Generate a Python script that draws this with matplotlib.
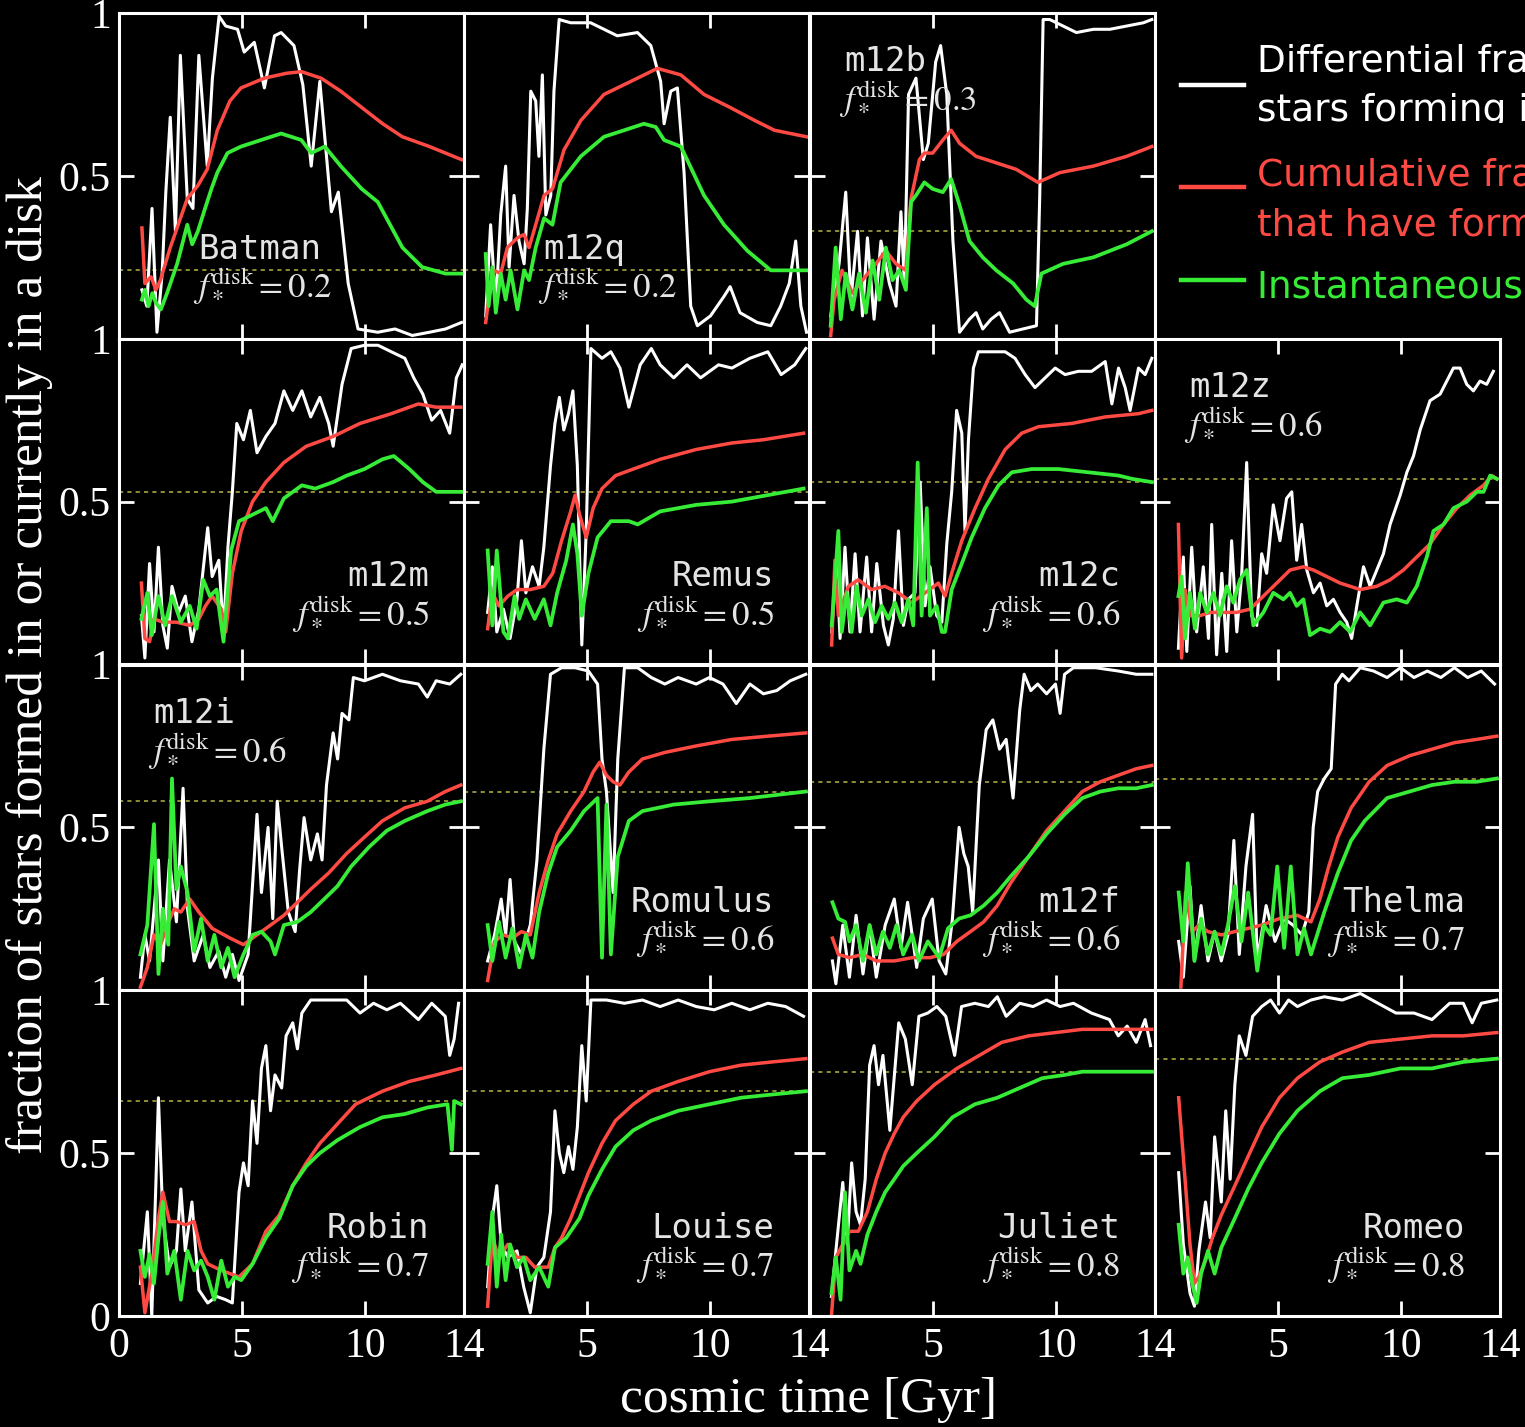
import matplotlib.pyplot as plt
from matplotlib.lines import Line2D
from matplotlib.transforms import Bbox

plt.rcParams['mathtext.fontset'] = 'stix'
plt.rcParams['font.family'] = ['Liberation Serif', 'DejaVu Serif']

# --- data: (cosmic time [Gyr], fraction) ---
batman_white = [(0.93,.15),(1.13,.10),(1.34,.40),(1.54,.02),(1.75,.20),(1.9,.45),(2.08,.68),(2.29,.33),(2.49,.87),(2.77,.43),(3.0,.40),(3.24,.87),(3.58,.53),(3.79,.80),(4.06,.99),(4.33,.96),(4.81,.95),(5.08,.88),(5.49,.91),(5.9,.77),(6.31,.93),(6.58,.94),(7.1,.90),(7.46,.78),(7.8,.53),(8.15,.79),(8.62,.39),(8.9,.45),(9.3,.17),(9.7,.03),(10.5,.02),(11.2,.03),(11.9,.01),(12.6,.02),(13.25,.03),(13.9,.05)]
batman_red = [(0.93,.34),(1.05,.17),(1.3,.19),(1.5,.15),(1.68,.18),(2.08,.28),(2.77,.43),(3.2,.47),(3.58,.52),(3.99,.64),(4.5,.73),(4.95,.77),(5.9,.80),(6.8,.815),(7.4,.82),(8.2,.80),(9.0,.76),(9.85,.71),(10.7,.66),(11.5,.62),(12.6,.59),(13.9,.55)]
batman_green = [(0.93,.12),(1.05,.15),(1.2,.10),(1.35,.14),(1.5,.11),(1.7,.09),(1.95,.14),(2.36,.23),(2.6,.30),(2.77,.35),(2.97,.29),(3.2,.33),(3.45,.39),(3.75,.46),(3.99,.51),(4.4,.57),(4.95,.59),(5.76,.61),(6.58,.63),(7.4,.61),(7.8,.57),(8.35,.59),(9.0,.53),(9.85,.46),(10.5,.42),(11.0,.35),(11.5,.28),(12.3,.22),(13.25,.20),(13.9,.20)]

m12q_white = [(0.88,.07),(1.08,.35),(1.29,.10),(1.49,.38),(1.69,.53),(1.83,.22),(2.03,.44),(2.23,.30),(2.44,.23),(2.57,.40),(2.71,.76),(2.91,.73),(3.04,.56),(3.18,.81),(3.32,.38),(3.52,.44),(3.65,.76),(3.86,.98),(4.33,.97),(5.14,.97),(5.68,.95),(6.22,.93),(7.04,.94),(7.58,.90),(7.98,.79),(8.12,.66),(8.39,.76),(8.66,.77),(8.93,.51),(9.2,.10),(9.47,.04),(10.0,.07),(10.55,.13),(10.8,.16),(11.2,.08),(11.9,.05),(12.45,.04),(12.85,.10),(13.2,.17),(13.46,.30),(13.67,.10),(13.9,.02)]
m12q_red = [(0.88,.05),(1.0,.12),(1.22,.21),(1.49,.20),(1.76,.28),(2.17,.31),(2.44,.32),(2.64,.28),(2.91,.35),(3.25,.44),(3.59,.46),(4.06,.58),(4.74,.67),(5.68,.75),(6.77,.79),(7.85,.83),(8.8,.81),(9.74,.75),(10.8,.71),(11.8,.67),(12.6,.64),(13.9,.62)]
m12q_green = [(0.88,.26),(1.0,.10),(1.15,.22),(1.29,.08),(1.49,.20),(1.69,.12),(1.89,.21),(2.17,.09),(2.44,.21),(2.64,.18),(2.91,.28),(3.25,.37),(3.59,.35),(3.92,.48),(4.74,.56),(5.68,.62),(6.5,.64),(7.3,.66),(7.78,.65),(8.12,.61),(8.8,.59),(9.74,.44),(10.55,.35),(11.5,.27),(12.45,.21),(13.5,.21),(13.9,.21)]

m12b_white = [(0.84,.07),(1.18,.23),(1.45,.45),(1.66,.12),(1.93,.33),(2.13,.07),(2.33,.31),(2.6,.06),(2.88,.30),(3.22,.17),(3.49,.10),(3.69,.39),(3.83,.17),(4.0,.75),(4.3,.80),(4.6,.55),(4.8,.60),(5.1,.85),(5.3,.90),(5.55,.75),(5.8,.30),(6.07,.02),(6.47,.06),(6.74,.08),(7.01,.03),(7.35,.06),(7.69,.08),(8.1,.02),(8.64,.03),(9.19,.04),(9.32,.43),(9.46,.98),(9.73,.98),(10.27,.96),(10.81,.94),(11.5,.95),(12.17,.95),(12.85,.96),(13.53,.97),(13.87,.98)]
m12b_red = [(0.84,.01),(0.98,.12),(1.3,.21),(1.72,.14),(2.13,.18),(2.67,.23),(3.08,.27),(3.49,.23),(3.89,.21),(4.1,.43),(4.44,.55),(4.64,.57),(4.98,.57),(5.39,.61),(5.73,.64),(6.07,.60),(6.74,.56),(7.56,.54),(8.37,.52),(9.25,.48),(10.14,.51),(11.5,.53),(12.85,.56),(13.87,.59)]
m12b_green = [(0.84,.04),(1.04,.28),(1.25,.06),(1.45,.20),(1.72,.09),(1.99,.20),(2.27,.08),(2.54,.24),(2.81,.12),(3.08,.28),(3.35,.18),(3.62,.21),(3.89,.15),(4.1,.42),(4.3,.44),(4.64,.48),(4.98,.46),(5.39,.45),(5.73,.49),(6.07,.41),(6.47,.30),(7.01,.25),(7.56,.21),(8.24,.17),(8.78,.12),(9.12,.10),(9.39,.20),(10.27,.23),(11.5,.25),(12.85,.29),(13.87,.33)]

m12m_white = [(0.91,.15),(1.05,.02),(1.24,.31),(1.42,.10),(1.6,.36),(1.78,.12),(1.96,.05),(2.15,.24),(2.42,.16),(2.69,.21),(2.96,.07),(3.24,.17),(3.6,.42),(3.78,.27),(4.05,.32),(4.24,.10),(4.42,.36),(4.6,.53),(4.78,.74),(5.05,.69),(5.33,.78),(5.6,.65),(5.96,.70),(6.33,.74),(6.69,.84),(7.05,.78),(7.42,.84),(7.78,.76),(8.15,.82),(8.51,.74),(8.69,.67),(9.05,.86),(9.42,.97),(9.96,.98),(10.51,.98),(11.05,.96),(11.6,.94),(11.96,.88),(12.33,.83),(12.69,.75),(13.05,.78),(13.42,.71),(13.69,.88),(13.93,.92)]
m12m_red = [(0.91,.25),(1.05,.08),(1.24,.07),(1.42,.14),(1.78,.13),(2.33,.13),(2.87,.12),(3.24,.14),(3.51,.18),(3.78,.21),(4.15,.17),(4.33,.10),(4.6,.28),(4.96,.41),(5.42,.50),(5.96,.56),(6.69,.62),(7.6,.67),(8.69,.70),(9.78,.74),(11.05,.77),(12.15,.80),(12.87,.79),(13.87,.79)]
m12m_green = [(0.91,.14),(1.15,.22),(1.33,.09),(1.6,.21),(1.87,.12),(2.15,.21),(2.51,.13),(2.87,.18),(3.15,.11),(3.42,.26),(3.69,.21),(3.96,.23),(4.24,.07),(4.55,.35),(4.87,.44),(5.42,.46),(5.96,.48),(6.24,.44),(6.69,.51),(7.42,.55),(7.96,.54),(8.69,.56),(9.24,.58),(9.96,.60),(10.69,.63),(11.15,.64),(11.78,.60),(12.33,.56),(12.87,.53),(13.96,.53)]

remus_white = [(0.96,.16),(1.15,.30),(1.33,.10),(1.6,.17),(1.87,.08),(2.15,.20),(2.33,.38),(2.51,.22),(2.78,.30),(3.05,.24),(3.24,.36),(3.51,.61),(3.69,.74),(3.87,.82),(4.05,.72),(4.24,.77),(4.42,.84),(4.6,.61),(4.78,.06),(4.96,.41),(5.15,.97),(5.6,.94),(5.96,.96),(6.33,.91),(6.69,.79),(7.15,.92),(7.6,.97),(7.96,.92),(8.51,.88),(9.05,.92),(9.6,.88),(10.33,.92),(10.87,.91),(11.6,.94),(12.33,.96),(12.87,.89),(13.42,.92),(13.87,.97)]
remus_red = [(0.96,.11),(1.15,.22),(1.42,.18),(1.78,.21),(2.15,.23),(2.69,.23),(3.24,.24),(3.6,.28),(3.96,.38),(4.33,.47),(4.51,.52),(4.69,.46),(4.96,.39),(5.24,.48),(5.6,.54),(6.15,.58),(6.87,.60),(7.96,.63),(9.42,.66),(10.87,.68),(12.15,.69),(13.78,.71)]
remus_green = [(0.96,.35),(1.15,.12),(1.33,.35),(1.6,.10),(1.78,.08),(2.05,.21),(2.24,.14),(2.51,.20),(2.87,.14),(3.24,.20),(3.51,.12),(3.78,.22),(4.15,.32),(4.42,.43),(4.6,.34),(4.78,.15),(5.05,.28),(5.42,.39),(5.96,.44),(6.69,.44),(7.05,.43),(7.96,.47),(9.42,.49),(10.87,.50),(12.33,.52),(13.78,.54)]

m12c_white = [(0.88,.10),(1.08,.31),(1.22,.08),(1.42,.36),(1.62,.10),(1.83,.34),(2.03,.10),(2.3,.33),(2.5,.10),(2.71,.31),(2.98,.12),(3.18,.06),(3.38,.14),(3.59,.41),(3.79,.12),(3.99,.20),(4.26,.22),(4.47,.56),(4.67,.18),(4.87,.30),(5.14,.15),(5.35,.13),(5.55,.37),(5.75,.53),(5.95,.78),(6.16,.71),(6.29,.41),(6.43,.69),(6.63,.91),(6.83,.96),(7.38,.96),(7.92,.96),(8.32,.94),(8.73,.89),(9.13,.85),(9.54,.88),(9.95,.91),(10.35,.89),(10.89,.90),(11.43,.90),(11.98,.93),(12.25,.80),(12.52,.91),(12.79,.85),(12.99,.78),(13.33,.91),(13.6,.89),(13.87,.94)]
m12c_red = [(0.88,.06),(1.01,.32),(1.15,.15),(1.56,.24),(1.96,.26),(2.5,.23),(3.04,.24),(3.59,.22),(4.13,.19),(4.67,.22),(5.21,.25),(5.48,.21),(5.75,.28),(6.16,.38),(6.7,.48),(7.24,.57),(7.92,.66),(8.59,.71),(9.27,.73),(10.62,.74),(11.98,.76),(13.33,.77),(13.87,.78)]
m12c_green = [(0.88,.12),(1.15,.41),(1.29,.10),(1.49,.22),(1.69,.10),(1.89,.24),(2.1,.15),(2.37,.20),(2.64,.13),(2.91,.18),(3.18,.14),(3.45,.19),(3.72,.13),(3.99,.20),(4.19,.12),(4.37,.62),(4.53,.15),(4.74,.48),(4.87,.15),(5.14,.18),(5.35,.10),(5.48,.10),(5.75,.23),(6.16,.31),(6.56,.39),(7.1,.48),(7.65,.55),(8.19,.59),(9.0,.60),(10.08,.60),(11.3,.59),(12.52,.58),(13.06,.57),(13.87,.56)]

m12z_white = [(0.95,.05),(1.15,.33),(1.29,.04),(1.49,.36),(1.69,.10),(1.96,.30),(2.17,.08),(2.3,.43),(2.5,.03),(2.71,.28),(2.91,.04),(3.11,.38),(3.32,.10),(3.52,.28),(3.72,.62),(3.92,.15),(4.13,.12),(4.33,.34),(4.53,.28),(4.8,.49),(5.07,.38),(5.34,.51),(5.55,.53),(5.75,.32),(5.95,.43),(6.16,.29),(6.43,.22),(6.7,.25),(6.97,.18),(7.24,.20),(7.51,.16),(7.78,.13),(7.98,.08),(8.19,.18),(8.46,.30),(8.73,.24),(9.0,.29),(9.27,.34),(9.54,.43),(9.95,.52),(10.22,.59),(10.49,.64),(10.76,.72),(11.16,.81),(11.57,.83),(11.84,.87),(12.11,.91),(12.38,.91),(12.65,.86),(12.92,.84),(13.19,.87),(13.46,.86),(13.73,.90)]
m12z_red = [(0.95,.43),(1.08,.02),(1.22,.23),(1.42,.15),(1.83,.15),(2.23,.16),(2.77,.16),(3.32,.16),(3.86,.17),(4.4,.21),(4.94,.25),(5.48,.29),(6.02,.30),(6.43,.29),(6.97,.27),(7.51,.25),(7.92,.24),(8.32,.23),(9.0,.24),(9.54,.26),(10.08,.29),(10.62,.33),(11.16,.37),(11.71,.43),(12.25,.48),(12.79,.52),(13.33,.55),(13.67,.58),(13.87,.57)]
m12z_green = [(0.95,.21),(1.08,.27),(1.22,.08),(1.42,.22),(1.62,.11),(1.83,.22),(2.1,.16),(2.37,.22),(2.64,.15),(2.91,.24),(3.18,.19),(3.45,.26),(3.72,.29),(3.99,.12),(4.4,.16),(4.8,.22),(5.21,.20),(5.48,.22),(5.75,.18),(6.02,.20),(6.29,.09),(6.7,.11),(7.1,.10),(7.51,.13),(7.92,.10),(8.32,.16),(8.73,.12),(9.27,.19),(9.81,.20),(10.22,.19),(10.62,.24),(11.03,.33),(11.3,.41),(11.71,.43),(12.11,.48),(12.65,.50),(13.06,.53),(13.33,.53),(13.6,.58),(13.87,.57)]

m12i_white = [(0.87,.04),(1.05,.17),(1.24,.09),(1.6,.40),(1.78,.09),(2.05,.40),(2.33,.21),(2.6,.62),(2.78,.25),(3.05,.09),(3.42,.17),(3.69,.07),(4.05,.12),(4.33,.04),(4.6,.11),(4.87,.03),(5.24,.11),(5.6,.54),(5.78,.30),(6.05,.50),(6.24,.22),(6.42,.58),(6.6,.44),(6.87,.24),(7.15,.18),(7.33,.37),(7.51,.53),(7.78,.40),(8.05,.48),(8.24,.40),(8.42,.63),(8.69,.79),(8.87,.71),(9.05,.85),(9.33,.83),(9.51,.96),(9.96,.95),(10.69,.97),(11.42,.95),(12.15,.94),(12.51,.90),(12.87,.95),(13.42,.94),(13.87,.97)]
m12i_red = [(0.87,.01),(1.15,.07),(1.42,.17),(1.69,.14),(1.96,.20),(2.24,.25),(2.51,.24),(2.87,.28),(3.24,.24),(3.78,.19),(4.51,.16),(5.05,.14),(5.6,.17),(6.15,.20),(6.69,.23),(7.24,.27),(7.78,.31),(8.51,.36),(9.24,.42),(9.96,.47),(10.69,.52),(11.6,.56),(12.51,.58),(13.24,.61),(13.87,.63)]
m12i_green = [(0.87,.11),(1.15,.20),(1.42,.51),(1.6,.05),(1.78,.25),(2.0,.14),(2.15,.65),(2.33,.31),(2.51,.38),(2.78,.30),(3.05,.12),(3.33,.22),(3.6,.09),(3.87,.17),(4.15,.07),(4.42,.13),(4.69,.04),(5.05,.11),(5.42,.17),(5.78,.18),(6.15,.15),(6.33,.11),(6.69,.20),(7.24,.21),(7.78,.24),(8.33,.28),(8.87,.32),(9.42,.38),(10.15,.44),(10.87,.49),(11.6,.52),(12.51,.55),(13.24,.57),(13.87,.58)]

romulus_white = [(0.96,.09),(1.24,.17),(1.51,.28),(1.69,.17),(1.87,.34),(2.05,.15),(2.33,.11),(2.69,.20),(2.96,.40),(3.24,.74),(3.51,.97),(3.96,.99),(4.51,.99),(5.05,.98),(5.42,.94),(5.6,.71),(5.78,.61),(6.05,.30),(6.24,.71),(6.51,.99),(7.05,.99),(7.6,.96),(8.15,.94),(8.69,.96),(9.42,.94),(9.96,.96),(10.51,.94),(11.05,.88),(11.6,.94),(12.15,.91),(12.69,.92),(13.24,.95),(13.87,.97)]
romulus_red = [(0.96,.03),(1.24,.15),(1.6,.17),(1.96,.16),(2.33,.18),(2.69,.17),(3.05,.30),(3.42,.40),(3.78,.48),(4.33,.55),(4.87,.61),(5.24,.67),(5.51,.70),(5.78,.66),(6.05,.64),(6.33,.63),(6.69,.67),(7.24,.71),(8.15,.73),(9.42,.75),(10.87,.77),(12.33,.78),(13.87,.79)]
romulus_green = [(0.96,.20),(1.15,.09),(1.42,.21),(1.69,.10),(1.96,.19),(2.24,.07),(2.51,.17),(2.78,.10),(3.05,.24),(3.42,.36),(3.78,.44),(4.33,.49),(4.87,.55),(5.42,.59),(5.6,.10),(5.78,.57),(5.96,.11),(6.24,.41),(6.69,.52),(7.24,.55),(8.51,.57),(9.96,.58),(11.6,.59),(13.87,.61)]

m12f_white = [(0.91,.09),(1.05,.02),(1.33,.20),(1.6,.04),(1.87,.23),(2.15,.05),(2.42,.20),(2.69,.04),(3.05,.20),(3.42,.28),(3.69,.13),(3.96,.27),(4.33,.07),(4.6,.22),(4.96,.28),(5.24,.09),(5.51,.05),(5.78,.22),(6.05,.50),(6.24,.42),(6.42,.38),(6.6,.24),(6.87,.63),(7.15,.80),(7.42,.83),(7.69,.74),(7.96,.77),(8.24,.59),(8.51,.86),(8.69,.97),(8.96,.92),(9.24,.94),(9.6,.91),(9.96,.94),(10.15,.85),(10.33,.97),(10.69,.99),(11.6,.99),(12.51,.98),(13.24,.97),(13.87,.97)]
m12f_red = [(0.91,.16),(1.15,.11),(1.6,.10),(2.15,.11),(2.69,.09),(3.42,.09),(4.15,.10),(4.87,.10),(5.42,.11),(5.96,.15),(6.51,.18),(7.05,.21),(7.6,.26),(8.15,.33),(8.87,.41),(9.6,.49),(10.33,.55),(11.05,.61),(11.78,.64),(12.51,.66),(13.24,.68),(13.87,.69)]
m12f_green = [(0.91,.27),(1.15,.22),(1.42,.21),(1.6,.15),(1.87,.20),(2.15,.09),(2.42,.20),(2.69,.11),(2.96,.18),(3.24,.13),(3.51,.20),(3.78,.11),(4.15,.17),(4.42,.09),(4.78,.15),(5.24,.10),(5.6,.19),(6.05,.22),(6.51,.23),(7.05,.26),(7.6,.30),(8.15,.35),(8.87,.41),(9.6,.48),(10.33,.54),(11.05,.59),(11.78,.61),(12.51,.62),(13.24,.62),(13.87,.63)]

thelma_white = [(0.96,.15),(1.15,.04),(1.42,.32),(1.6,.09),(1.87,.26),(2.15,.09),(2.42,.18),(2.69,.09),(2.96,.17),(3.2,.46),(3.42,.11),(3.69,.38),(3.96,.54),(4.15,.09),(4.51,.26),(4.87,.15),(5.24,.22),(5.6,.20),(5.96,.17),(6.24,.24),(6.42,.50),(6.6,.61),(6.87,.65),(7.15,.68),(7.33,.94),(7.6,.97),(7.87,.95),(8.33,.99),(8.87,.98),(9.42,.96),(9.96,.99),(10.51,.96),(11.05,.98),(11.6,.96),(12.15,.99),(12.69,.96),(13.24,.98),(13.78,.94)]
thelma_red = [(1.05,.01),(1.24,.30),(1.51,.18),(1.78,.20),(2.15,.18),(2.69,.17),(3.24,.18),(3.78,.19),(4.33,.20),(5.05,.22),(5.78,.23),(6.33,.21),(6.69,.28),(7.05,.38),(7.42,.47),(7.96,.56),(8.69,.64),(9.42,.69),(10.33,.72),(11.24,.74),(12.15,.76),(13.05,.77),(13.87,.78)]
thelma_green = [(0.96,.30),(1.15,.15),(1.33,.39),(1.6,.09),(1.87,.22),(2.15,.11),(2.42,.18),(2.69,.11),(2.96,.20),(3.24,.32),(3.51,.15),(3.78,.30),(4.15,.06),(4.42,.20),(4.69,.17),(4.96,.38),(5.24,.13),(5.51,.38),(5.78,.11),(6.05,.19),(6.33,.11),(6.87,.24),(7.42,.36),(7.96,.46),(8.51,.52),(9.42,.59),(10.33,.61),(11.24,.63),(12.15,.64),(13.05,.64),(13.87,.65)]

robin_white = [(0.87,.10),(1.15,.32),(1.33,.00),(1.51,.44),(1.6,.67),(1.78,.30),(2.05,.15),(2.33,.20),(2.51,.39),(2.69,.20),(2.96,.35),(3.24,.08),(3.6,.04),(3.96,.06),(4.33,.05),(4.6,.04),(4.87,.38),(5.05,.47),(5.24,.40),(5.42,.66),(5.6,.53),(5.78,.76),(5.96,.83),(6.15,.63),(6.33,.74),(6.6,.70),(6.78,.86),(7.05,.90),(7.24,.82),(7.42,.93),(7.78,.97),(8.51,.97),(9.24,.97),(9.78,.93),(10.33,.96),(10.87,.94),(11.42,.96),(12.15,.91),(12.69,.96),(13.24,.92),(13.42,.80),(13.6,.85),(13.78,.96)]
robin_red = [(0.87,.15),(1.05,.01),(1.33,.13),(1.6,.30),(1.78,.38),(2.05,.29),(2.33,.29),(2.69,.28),(3.05,.29),(3.33,.20),(3.6,.16),(4.15,.14),(4.87,.12),(5.42,.16),(5.96,.26),(6.51,.31),(7.05,.40),(7.6,.47),(8.15,.53),(8.87,.59),(9.6,.65),(10.69,.69),(11.78,.72),(12.87,.74),(13.87,.76)]
robin_green = [(0.87,.20),(1.05,.12),(1.24,.19),(1.42,.10),(1.6,.24),(1.78,.35),(1.96,.13),(2.24,.20),(2.51,.05),(2.78,.20),(3.05,.14),(3.33,.17),(3.6,.12),(3.87,.05),(4.15,.17),(4.42,.09),(4.69,.12),(4.96,.11),(5.42,.16),(5.96,.24),(6.51,.30),(7.05,.40),(7.6,.46),(8.15,.50),(8.87,.54),(9.78,.58),(10.69,.61),(11.6,.62),(12.51,.64),(13.33,.65),(13.51,.51),(13.6,.66),(13.87,.65)]

louise_white = [(0.96,.09),(1.15,.30),(1.33,.40),(1.51,.22),(1.78,.18),(2.15,.20),(2.42,.09),(2.69,.01),(2.96,.15),(3.24,.18),(3.51,.32),(3.69,.63),(3.87,.50),(4.05,.44),(4.24,.52),(4.42,.45),(4.6,.58),(4.78,.83),(4.96,.66),(5.15,.97),(5.78,.97),(6.51,.96),(7.24,.97),(7.96,.95),(8.69,.97),(9.42,.95),(10.15,.94),(10.87,.96),(11.6,.94),(12.33,.96),(13.05,.95),(13.78,.92)]
louise_red = [(0.96,.03),(1.15,.24),(1.42,.18),(1.78,.22),(2.15,.18),(2.51,.18),(2.87,.15),(3.42,.15),(3.69,.21),(3.96,.24),(4.33,.30),(4.69,.37),(5.05,.44),(5.6,.53),(6.15,.60),(6.87,.65),(7.6,.69),(8.69,.72),(9.96,.75),(11.24,.77),(12.51,.78),(13.87,.79)]
louise_green = [(0.96,.16),(1.15,.32),(1.33,.09),(1.51,.25),(1.69,.11),(1.87,.22),(2.15,.15),(2.42,.18),(2.69,.11),(3.05,.15),(3.42,.09),(3.69,.21),(4.15,.24),(4.69,.30),(5.05,.37),(5.6,.45),(6.15,.52),(6.87,.57),(7.6,.60),(8.69,.63),(9.96,.65),(11.24,.67),(12.51,.68),(13.87,.69)]

juliet_white = [(0.87,.06),(1.05,.20),(1.33,.41),(1.51,.22),(1.69,.47),(1.87,.32),(2.05,.28),(2.24,.42),(2.42,.77),(2.6,.83),(2.78,.71),(2.96,.80),(3.24,.57),(3.6,.90),(3.87,.85),(4.15,.71),(4.42,.92),(4.78,.93),(5.15,.95),(5.51,.92),(5.87,.80),(6.15,.95),(6.69,.96),(7.24,.95),(7.6,.98),(7.96,.92),(8.51,.96),(9.05,.95),(9.6,.97),(10.15,.95),(10.69,.96),(11.42,.93),(12.15,.91),(12.51,.86),(12.87,.89),(13.24,.84),(13.6,.91),(13.82,.83)]
juliet_red = [(0.87,.00),(1.05,.18),(1.33,.22),(1.6,.26),(1.96,.26),(2.33,.32),(2.69,.42),(3.05,.50),(3.42,.56),(3.78,.61),(4.33,.66),(5.05,.71),(5.96,.76),(6.87,.80),(7.78,.84),(8.87,.86),(9.96,.87),(11.05,.88),(12.15,.88),(12.87,.88),(13.87,.88)]
juliet_green = [(0.87,.07),(1.05,.18),(1.24,.05),(1.42,.38),(1.6,.14),(1.87,.20),(2.05,.16),(2.33,.25),(2.69,.32),(3.05,.38),(3.42,.42),(3.78,.46),(4.33,.50),(5.05,.55),(5.78,.61),(6.69,.65),(7.6,.67),(8.51,.70),(9.42,.73),(10.33,.74),(11.05,.75),(12.15,.75),(13.05,.75),(13.87,.75)]

romeo_white = [(0.96,.44),(1.15,.22),(1.42,.07),(1.6,.03),(1.78,.20),(2.05,.35),(2.24,.24),(2.42,.55),(2.69,.35),(2.87,.63),(3.05,.42),(3.24,.71),(3.42,.86),(3.69,.80),(3.96,.92),(4.33,.95),(4.69,.97),(5.05,.93),(5.42,.97),(5.78,.95),(6.33,.97),(6.87,.98),(7.6,.97),(8.33,.99),(9.05,.96),(9.78,.93),(10.51,.93),(11.24,.91),(11.96,.96),(12.51,.96),(12.87,.90),(13.24,.96),(13.87,.97)]
romeo_red = [(0.96,.67),(1.24,.40),(1.42,.22),(1.6,.10),(1.78,.12),(2.05,.17),(2.33,.24),(2.69,.31),(3.24,.40),(3.78,.49),(4.33,.58),(5.05,.67),(5.78,.73),(6.69,.78),(7.6,.81),(8.69,.84),(9.96,.85),(11.24,.86),(12.51,.86),(13.87,.87)]
romeo_green = [(0.96,.28),(1.15,.13),(1.33,.18),(1.51,.10),(1.69,.04),(1.87,.13),(2.15,.20),(2.42,.13),(2.69,.21),(3.24,.30),(3.78,.39),(4.33,.47),(5.05,.56),(5.78,.63),(6.69,.69),(7.6,.73),(8.69,.74),(9.96,.76),(11.24,.76),(12.51,.78),(13.87,.79)]

names = ['Batman', 'm12q', 'm12b', 'm12m', 'Remus', 'm12c', 'm12z', 'm12i',
         'Romulus', 'm12f', 'Thelma', 'Robin', 'Louise', 'Juliet', 'Romeo']
fdisk = ['0.2', '0.2', '0.3', '0.5', '0.5', '0.6', '0.6', '0.6',
         '0.6', '0.6', '0.7', '0.7', '0.7', '0.8', '0.8']
fdisk_level = [0.21, 0.21, 0.33, 0.53, 0.53, 0.56, 0.57, 0.58,
               0.61, 0.64, 0.65, 0.66, 0.69, 0.75, 0.79]
white = [batman_white, m12q_white, m12b_white, m12m_white, remus_white, m12c_white,
         m12z_white, m12i_white, romulus_white, m12f_white, thelma_white,
         robin_white, louise_white, juliet_white, romeo_white]
red = [batman_red, m12q_red, m12b_red, m12m_red, remus_red, m12c_red,
       m12z_red, m12i_red, romulus_red, m12f_red, thelma_red,
       robin_red, louise_red, juliet_red, romeo_red]
green = [batman_green, m12q_green, m12b_green, m12m_green, remus_green, m12c_green,
         m12z_green, m12i_green, romulus_green, m12f_green, thelma_green,
         robin_green, louise_green, juliet_green, romeo_green]

# grid slot of each panel and where its label goes
slots = [(0, 0), (0, 1), (0, 2), (1, 0), (1, 1), (1, 2), (1, 3), (2, 0),
         (2, 1), (2, 2), (2, 3), (3, 0), (3, 1), (3, 2), (3, 3)]
label_pos = {'Batman': 'mid', 'm12q': 'mid', 'm12b': 'top', 'm12z': 'top', 'm12i': 'top'}

W, H = 1525, 1427
col_x = [119, 464, 810, 1155]
row_top = [13, 338.75, 664.5, 990.25]
pw, ph = 345, 325.75

WHITE = '#ffffff'
RED = '#ff4a44'
GREEN = '#36ec36'
LABEL = '#e4e4e4'

fig = plt.figure(figsize=(W / 100, H / 100), dpi=100, facecolor='black')

for i, name in enumerate(names):
    r, c = slots[i]
    ax = fig.add_axes([col_x[c] / W, 1 - (row_top[r] + ph) / H, pw / W, ph / H])
    ax.set_facecolor('black')
    ax.axhline(fdisk_level[i], color='#a6a640', lw=1.2, ls=(0, (2.5, 2.5)), zorder=1)
    for pts, col, lw in ((white[i], WHITE, 2.2), (red[i], RED, 2.5), (green[i], GREEN, 2.7)):
        t, v = zip(*pts)
        ax.plot(t, v, color=col, lw=lw, zorder=2)
    ax.set_xlim(0, 14)
    ax.set_ylim(0, 1)
    ax.set_xticks([0, 5, 10, 14])
    ax.set_yticks([0, 0.5, 1])
    ax.set_xticklabels(['0' if c == 0 else '', '5', '10', '14'])
    ax.set_yticklabels(['0' if r == 3 else '', '0.5', '1'])
    ax.tick_params(direction='in', length=11, width=2, colors='white', top=True, right=True,
                   labelsize=30, labelbottom=(r == 3), labelleft=(c == 0))
    ax.tick_params(axis='x', pad=8)
    ax.tick_params(axis='y', pad=6)
    for sp in ax.spines.values():
        sp.set_color('white')
        sp.set_linewidth(2.2)

    pos = label_pos.get(name, 'low')
    if pos == 'mid':
        x, ha, y1, y2 = 0.23, 'left', 0.275, 0.165
    elif pos == 'top':
        x, ha, y1, y2 = 0.10, 'left', 0.85, 0.74
    else:
        x, ha, y1, y2 = 0.90, 'right', 0.27, 0.16
    ax.text(x, y1, name, transform=ax.transAxes, ha=ha, va='center',
            family='DejaVu Sans Mono', fontsize=24.5, color=LABEL, zorder=5)
    ax.text(x - 0.015 if ha == 'left' else x, y2, r'$f_*^{\rm disk} = %s$' % fdisk[i],
            transform=ax.transAxes, ha=ha, va='center', fontsize=25, color=LABEL, zorder=5)

# legend in the empty top-right slot
leg = [(WHITE, 85, ['Differential fraction of', 'stars forming in a disk'], [72, 121]),
       (RED, 187, ['Cumulative fraction of stars', 'that have formed in a disk'], [185, 235]),
       (GREEN, 280, ['Instantaneous fraction of stars in a disk'], [297])]
for col, ly, lines, bases in leg:
    fig.add_artist(Line2D([1181 / W, 1244 / W], [1 - ly / H] * 2, color=col, lw=3.2))
    for txt, b in zip(lines, bases):
        tx = fig.text(1257 / W, 1 - b / H, txt, color=col, fontsize=27,
                      family='DejaVu Sans', va='baseline', ha='left')
        if b == 121:
            tx.set_clip_box(Bbox.from_extents(0, H - 123, W, H))
            tx.set_clip_on(True)

fig.text(809 / W, 1 - 1400 / H, 'cosmic time [Gyr]', ha='center', va='center',
         fontsize=37, color='white')
fig.text(30 / W, 1 - 665 / H, 'fraction of stars formed in or currently in a disk',
         ha='center', va='center', rotation=90, fontsize=37, color='white')

fig.savefig('out.png', dpi=100, facecolor='black')
